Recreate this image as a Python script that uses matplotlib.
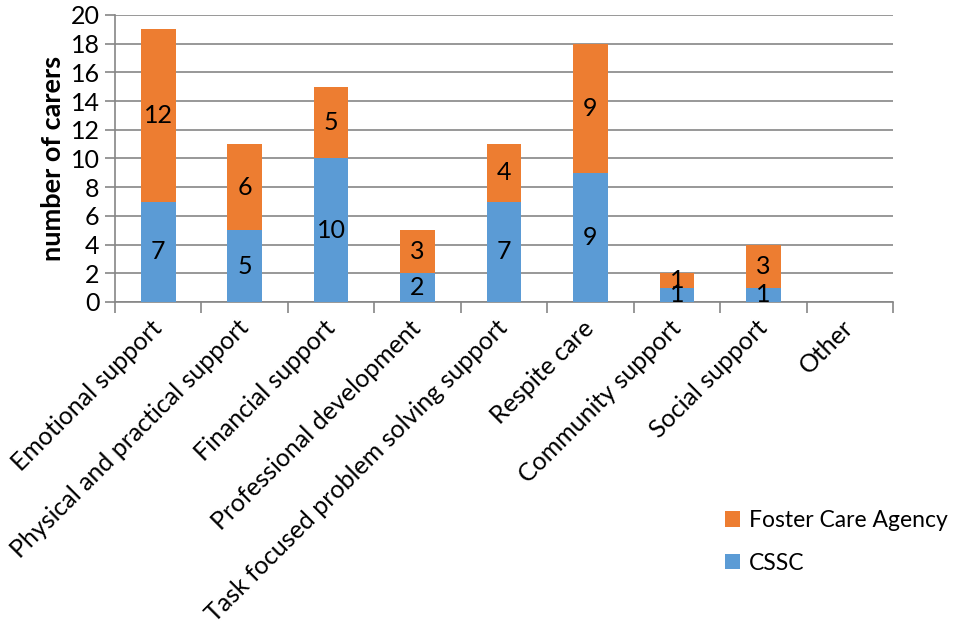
import numpy as np
from matplotlib import pyplot as plt

categories = ['Emotional support', 'Physical and practical support', 'Financial support',
              'Professional development', 'Task focused problem solving support',
              'Respite care', 'Community support', 'Social support', 'Other']
cssc = [7, 5, 10, 2, 7, 9, 1, 1, 0]
agency = [12, 6, 5, 3, 4, 9, 1, 3, 0]
y_ticks = list(range(0, 21, 2))

plt.rcParams['font.family'] = ['Lato', 'DejaVu Sans']

blue = '#5B9BD5'
orange = '#ED7D31'
grey = '#868686'

fig = plt.figure(figsize=(9.55, 6.27), dpi=100)
ax = fig.add_axes([115 / 955, 1 - 302 / 627, (893 - 115) / 955, (302 - 15) / 627])

x = np.arange(len(categories))
b1 = ax.bar(x, cssc, width=0.4, color=blue, label='CSSC', zorder=3)
b2 = ax.bar(x, agency, width=0.4, bottom=cssc, color=orange, label='Foster Care Agency', zorder=3)

for i in range(len(categories)):
    if cssc[i] > 0:
        ax.text(x[i], cssc[i] / 2, str(cssc[i]), ha='center', va='center', fontsize=18, zorder=4)
    if agency[i] > 0:
        ax.text(x[i], cssc[i] + agency[i] / 2, str(agency[i]), ha='center', va='center',
                fontsize=18, zorder=4)

ax.set_xlim(-0.5, len(categories) - 0.5)
ax.set_ylim(0, 20)
ax.set_yticks(y_ticks)
ax.yaxis.grid(True, color=grey, linewidth=1.2, zorder=0)
ax.tick_params(axis='y', labelsize=18, color=grey, length=7, width=1.2, pad=4)

ax.set_xticks(x)
ax.set_xticklabels(categories, rotation=45, ha='right', va='center', rotation_mode='anchor',
                   fontsize=18)
ax.tick_params(axis='x', which='major', length=0, pad=16)
ax.set_xticks(np.arange(-0.5, len(categories)), minor=True)
ax.tick_params(axis='x', which='minor', length=8, width=1.2, color=grey)

for s in ['top', 'right']:
    ax.spines[s].set_visible(False)
for s in ['left', 'bottom']:
    ax.spines[s].set_color(grey)
    ax.spines[s].set_linewidth(1.2)

ax.set_ylabel('number of carers', fontsize=19.5, fontweight='bold', labelpad=4)

fig.legend(handles=[b2, b1], loc='center left', bbox_to_anchor=(704 / 955, 1 - 542 / 627),
           frameon=False, fontsize=16.5, handlelength=0.65, handleheight=0.65,
           handletextpad=0.4, labelspacing=0.95)

fig.savefig('out.png', dpi=100)
